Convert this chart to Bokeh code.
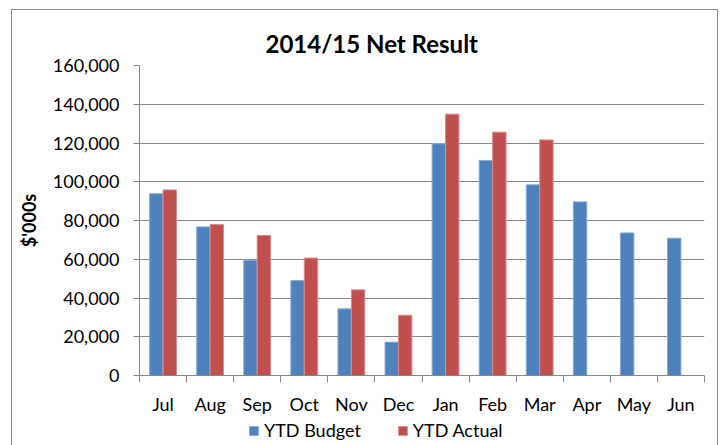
from bokeh.plotting import figure
from bokeh.models import (ColumnDataSource, FixedTicker, NumeralTickFormatter, Range1d,
                          Legend, LegendItem)
from bokeh.layouts import column
from bokeh.transform import dodge
from bokeh.embed import file_html
from bokeh.resources import INLINE

months = ["Jul", "Aug", "Sep", "Oct", "Nov", "Dec", "Jan", "Feb", "Mar", "Apr", "May", "Jun"]
ytd_budget = [93800, 76700, 59500, 49000, 34400, 17200, 119600, 111000, 98400, 89600, 73600, 70900]
ytd_actual = [95800, 77900, 72300, 60600, 44200, 31100, 134900, 125600, 121600]
y_ticks = [0, 20000, 40000, 60000, 80000, 100000, 120000, 140000, 160000]
series_names = ["YTD Budget", "YTD Actual"]
series_colors = ["#4F81BD", "#C0504D"]
series_edges = ["#86a9d8", "#da8c8a"]

FONT = "Lato"
GRID = "#868686"

budget_src = ColumnDataSource(dict(x=[i + 0.5 for i in range(len(ytd_budget))], y=ytd_budget))
actual_src = ColumnDataSource(dict(x=[i + 0.5 for i in range(len(ytd_actual))], y=ytd_actual))

p = figure(width=705, height=407, output_backend="svg", toolbar_location=None,
           x_range=Range1d(0, len(months)), y_range=Range1d(0, 160000),
           min_border_left=127, min_border_right=13, min_border_top=55, min_border_bottom=42)
p.outline_line_color = None
p.background_fill_color = "white"
p.border_fill_color = "white"

bw = 0.285
p.vbar(x=dodge("x", -bw / 2), top="y", width=bw, source=budget_src,
       fill_color=series_colors[0], line_color=series_edges[0], line_width=1)
p.vbar(x=dodge("x", bw / 2), top="y", width=bw, source=actual_src,
       fill_color=series_colors[1], line_color=series_edges[1], line_width=1)

# title
p.title.text = "2014/15 Net Result"
p.title.align = "left"
p.title.offset = 126
p.title.text_font = FONT
p.title.text_font_size = "24px"
p.title.text_font_style = "bold"
p.title.text_color = "black"
p.title.standoff = 16

# x axis
xa = p.xaxis[0]
xa.ticker = FixedTicker(ticks=[i + 0.5 for i in range(len(months))],
                        minor_ticks=list(range(len(months) + 1)))
xa.major_label_overrides = {i + 0.5: m for i, m in enumerate(months)}
xa.major_tick_line_color = None
xa.minor_tick_out = 7
xa.minor_tick_in = 0
xa.minor_tick_line_color = GRID
xa.axis_line_color = GRID
xa.major_label_text_font = FONT
xa.major_label_text_font_size = "18px"
xa.major_label_text_color = "black"
xa.major_label_standoff = 10
p.xgrid.grid_line_color = None

# y axis
ya = p.yaxis[0]
ya.ticker = FixedTicker(ticks=y_ticks, minor_ticks=[])
ya.formatter = NumeralTickFormatter(format="0,0")
ya.major_tick_out = 6
ya.major_tick_in = 0
ya.major_tick_line_color = GRID
ya.axis_line_color = GRID
ya.major_label_text_font = FONT
ya.major_label_text_font_size = "18px"
ya.major_label_text_color = "black"
ya.major_label_standoff = 14
ya.axis_label = "$'000s"
ya.axis_label_text_font = FONT
ya.axis_label_text_font_size = "18px"
ya.axis_label_text_font_style = "bold"
ya.axis_label_text_color = "black"
ya.axis_label_standoff = 10
p.ygrid.grid_line_color = GRID
p.ygrid.grid_line_width = 1

# legend strip (its frame is aligned with the main plot's frame by the column)
lg = figure(width=705, height=28, output_backend="svg", toolbar_location=None,
            x_axis_location=None, y_axis_location=None,
            x_range=Range1d(0, 1), y_range=Range1d(0, 1),
            min_border_left=0, min_border_right=0, min_border_top=0, min_border_bottom=0)
lg.outline_line_color = None
lg.grid.grid_line_color = None
items = []
for name, c, e in zip(series_names, series_colors, series_edges):
    r = lg.vbar(x=[0.5], top=[-1], bottom=[-2], width=0.1, fill_color=c, line_color=e)
    items.append(LegendItem(label=name, renderers=[r]))
legend = Legend(items=items, orientation="horizontal", location=(109, 4),
                padding=0, margin=0, spacing=36, label_standoff=5,
                glyph_width=11, glyph_height=11,
                label_text_font=FONT, label_text_font_size="18px", label_text_color="black",
                border_line_color=None, background_fill_alpha=0)
lg.add_layout(legend, "center")

layout = column(p, lg, spacing=0,
                styles={"border-top": "1px solid #8c8c8c",
                        "border-left": "1px solid #8c8c8c",
                        "border-right": "1px solid #8c8c8c",
                        "margin-left": "11px", "margin-top": "9px"})

open("out.html", "w").write(file_html(layout, INLINE))
